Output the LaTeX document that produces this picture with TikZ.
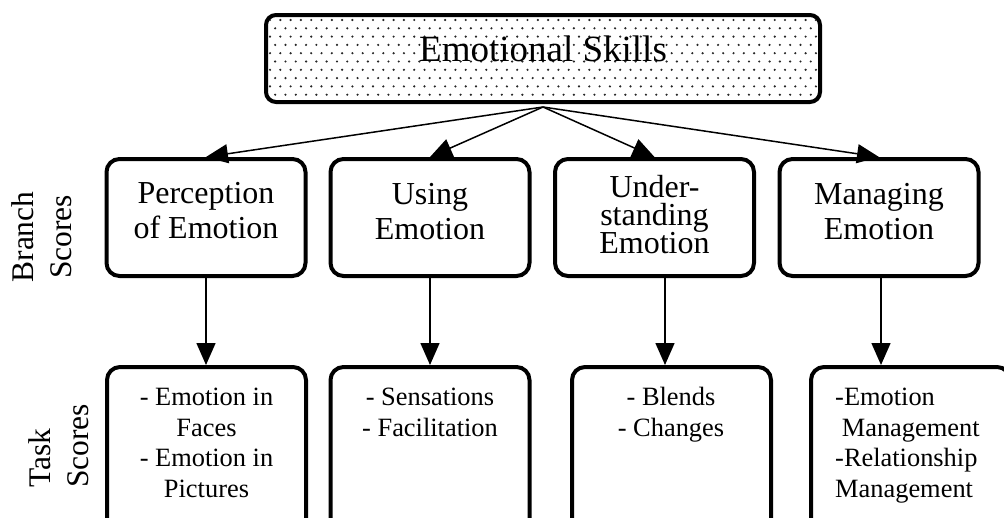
\documentclass[tikz,border=0pt]{standalone}
\usepackage{fontspec}
\setmainfont{Liberation Serif}
\usetikzlibrary{arrows.meta,calc}
\begin{document}
\begin{tikzpicture}[x=1pt,y=-1pt,
  box/.style={draw, line width=4pt, rounded corners=13pt, inner sep=0pt, fill=white},
  topbox/.style={box, rounded corners=10pt, minimum width=554pt, minimum height=87pt},
  branchbox/.style={box, minimum width=199pt, minimum height=117pt},
  taskbox/.style={box, minimum width=199pt, minimum height=178pt},
  titletext/.style={inner sep=0pt, anchor=base, font={\fontsize{37}{40}\selectfont}},
  branchtext/.style={inner sep=0pt, anchor=base, align=center,
    font={\fontsize{32}{35}\selectfont\lineskiplimit=-20pt}},
  tasktext/.style={inner sep=0pt, anchor=base, align=center,
    font={\fontsize{26.4}{30.5}\selectfont\lineskiplimit=-20pt}},
  sidetext/.style={inner sep=0pt, rotate=90,
    font={\fontsize{31.5}{38}\selectfont\lineskiplimit=-20pt}},
  arr/.style={line width=1.5pt, -{Triangle[length=22pt, width=19pt]}},
  dotc/.style={fill=black!85}
]
\useasboundingbox (0,0) rectangle (1004,517);

% top box with dotted fill
\node[topbox] (skills) at (543,58.5) {};
\begin{scope}
  \clip[rounded corners=8pt] (268,17) rectangle (818,100);
  \foreach \r in {0,...,10} {
    \foreach \c in {0,...,54} {
      \fill[dotc] ({270+\c*10.3+mod(\r,2)*5.15}, {20+\r*8.3}) circle (1.2pt);
    }
  }
\end{scope}
\node[titletext] (skillsT) at (543,61) {Emotional Skills};

% branch boxes
\node[branchbox] (perc)  at (206,217.5)   {};
\node[branchbox] (using) at (430,217.5)   {};
\node[branchbox] (under) at (654.5,217.5) {};
\node[branchbox] (manag) at (879,217.5)   {};

% the base anchor of a multi-line text sits on its last line
\node[branchtext] (percT)  at (206,238)   {Perception\\of Emotion};
\node[branchtext] (usingT) at (430,239)   {Using\\Emotion};
\node[branchtext, font={\fontsize{32}{28}\selectfont\lineskiplimit=-20pt}]
                  (underT) at (654.5,253) {Under-\\standing\\Emotion};
\node[branchtext] (managT) at (879,239)   {Managing\\Emotion};

% task boxes
\node[taskbox] (faces)  at (206.5,456) {};
\node[taskbox] (sens)   at (430,456)   {};
\node[taskbox] (blends) at (671.5,456) {};
\node[taskbox] (mgmt)   at (910.5,456) {};

\node[tasktext] (facesT)  at (206.5,497) {- Emotion in\\Faces\\- Emotion in\\Pictures};
\node[tasktext] (sensT)   at (430,436)   {- Sensations\\- Facilitation};
\node[tasktext] (blendsT) at (671,436)   {- Blends\\- Changes};
\node[tasktext, align=left, anchor=base west] (mgmtT) at (835,497)
  {-Emotion\\\hspace*{0.25em}Management\\-Relationship\\Management};

% side labels
\node[sidetext, align=center, anchor=base] (branchL) at (71,237) {Branch\\Scores};
\node[sidetext, align=left, anchor=base west] (taskL) at (88,488) {Task\\Scores};

% connectors
\coordinate (hub) at ([yshift=-3pt]skills.south);
\foreach \b in {perc,using,under,manag}
  \draw[arr] (hub) -- (\b.north);

\draw[arr] (perc.south) -- (perc.south |- faces.north);
\draw[arr] (using.south) -- (using.south |- sens.north);
\draw[arr] ([xshift=10.5pt]under.south) -- ([xshift=10.5pt]under.south |- blends.north);
\draw[arr] ([xshift=2pt]manag.south) -- ([xshift=2pt]manag.south |- mgmt.north);
\end{tikzpicture}
\end{document}
